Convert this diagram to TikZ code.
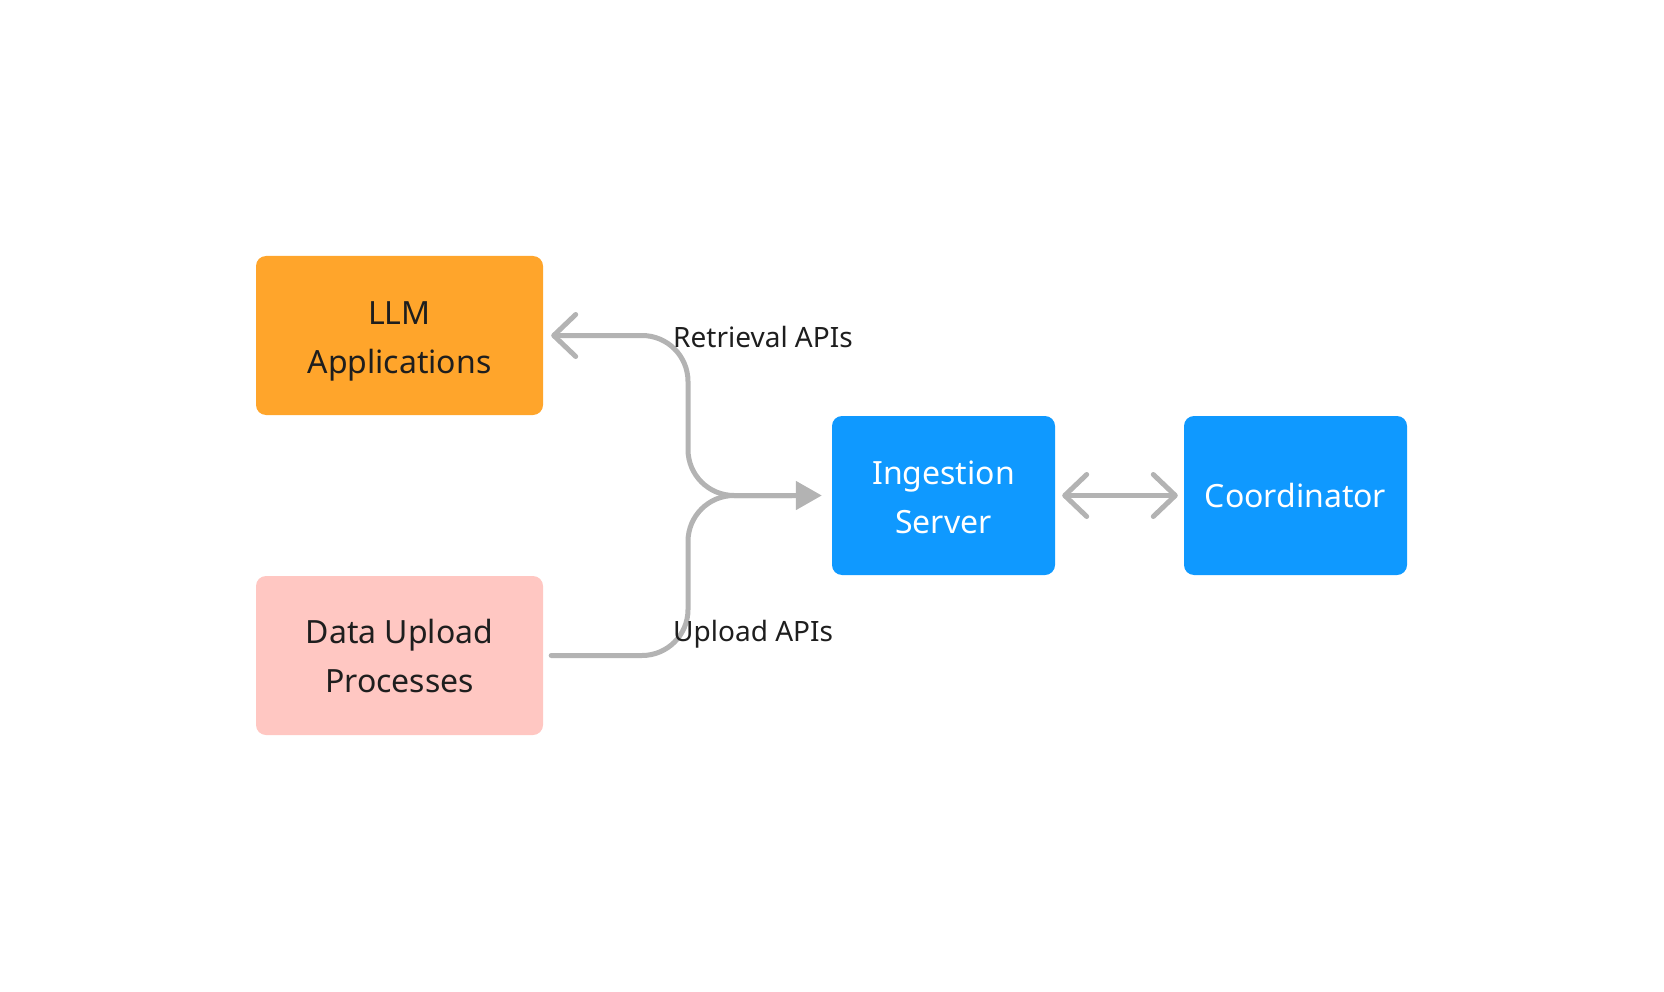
\documentclass[tikz,border=0pt]{standalone}
\usepackage{fontspec}
\setmainfont{Noto Sans}
\usetikzlibrary{arrows.meta}
\definecolor{orangebox}{HTML}{FFA52B}
\definecolor{pinkbox}{HTML}{FFC7C2}
\definecolor{bluebox}{HTML}{0F99FF}
\definecolor{conngray}{HTML}{B3B3B3}
\definecolor{textdark}{HTML}{1E1E1E}
\tikzset{
  box/.style={rectangle, rounded corners=10pt, inner sep=0pt, minimum height=159pt, align=center,
    font=\fontsize{32}{49}\selectfont},
  appbox/.style={box, fill=orangebox, text=textdark, minimum width=287pt},
  uploadbox/.style={box, fill=pinkbox, text=textdark, minimum width=287pt},
  srvbox/.style={box, fill=bluebox, text=white, minimum width=223pt},
  conn/.style={draw=conngray, line width=5pt, line cap=round},
  barb/.tip={Straight Barb[length=22pt, width=42pt, line width=5pt, round]},
  tri/.tip={Triangle[length=26pt, width=28pt]},
  lbl/.style={anchor=west, inner sep=0pt, text=textdark, font=\fontsize{28}{34}\selectfont}
}
\begin{document}
\begin{tikzpicture}[x=1pt, y=-1pt]
\useasboundingbox (0,0) rectangle (1664,992);
\node[appbox] (llm) at (399.5,335.5) {\rule{0pt}{34pt}LLM\\Applications};
\node[uploadbox] (data) at (399.5,655.5) {Data Upload\\Processes};
\node[srvbox] (ing) at (943.5,495.5) {\rule{0pt}{28pt}Ingestion\\Server};
\node[srvbox] (coord) at (1295.5,495.5) {Coordinator};
\coordinate (j) at (688,495.5);
% upload path
\draw[conn, -{tri}, shorten <=8pt, shorten >=10pt, rounded corners=46pt] (data.east) -| (j) -- (ing.west);
% retrieval path
\draw[conn, {barb}-, shorten <=8pt, shorten >=40pt, rounded corners=46pt] (llm.east) -| (j) -- (ing.west);
% ingestion <-> coordinator
\draw[conn, {barb}-{barb}, shorten <=7pt, shorten >=6pt] (ing.east) -- (coord.west);
\node[lbl] (rl) at (673,337) {Retrieval APIs};
\node[lbl] (ul) at (673,634) {Upload APIs};
\end{tikzpicture}
\end{document}
